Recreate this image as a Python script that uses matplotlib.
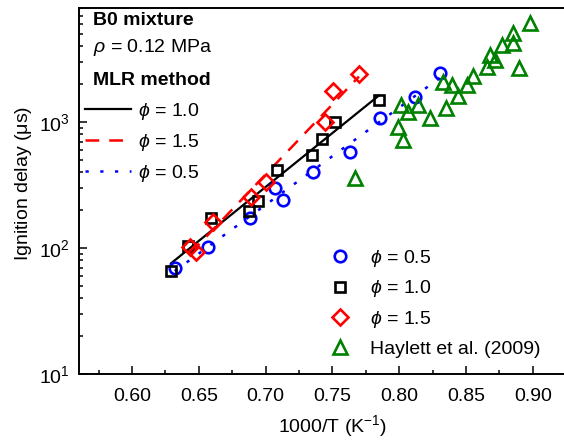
import numpy as np
import matplotlib
matplotlib.use('Agg')
import matplotlib.pyplot as plt
from matplotlib.ticker import LogLocator, LogFormatterMathtext, MultipleLocator

plt.rcParams['font.family'] = ['Liberation Sans', 'DejaVu Sans']
plt.rcParams['mathtext.fontset'] = 'custom'
plt.rcParams['mathtext.rm'] = 'Liberation Sans'
plt.rcParams['mathtext.it'] = 'Liberation Sans:italic'
plt.rcParams['mathtext.bf'] = 'Liberation Sans:bold'

# B0 mixture, p = 0.12 MPa: inverse temperature (1000/T) vs ignition delay (us)
x_phi05 = [0.632, 0.657, 0.688, 0.707, 0.713, 0.7355, 0.763, 0.7856, 0.812, 0.8305]
tau_phi05 = [69, 102, 173, 299, 240, 401, 578, 1076, 1578, 2448]

x_phi10 = [0.6292, 0.6419, 0.6591, 0.6876, 0.6943, 0.7085, 0.7347, 0.7422, 0.7519, 0.7849]
tau_phi10 = [66, 104, 173, 197, 236, 416, 547, 733, 1000, 1496]

x_phi15 = [0.6434, 0.6479, 0.6606, 0.6891, 0.7003, 0.7445, 0.7504, 0.7699]
tau_phi15 = [102, 93, 161, 254, 334, 1000, 1762, 2404]

# Haylett et al. (2009)
x_haylett = [0.8979, 0.8852, 0.8852, 0.8769, 0.8680, 0.8717, 0.8657, 0.8897, 0.8552,
             0.8507, 0.8328, 0.8395, 0.8440, 0.8350, 0.8231, 0.8013, 0.8141, 0.8066,
             0.7991, 0.8028, 0.7669]
tau_haylett = [6109, 5082, 4235, 4084, 3404, 3107, 2735, 2687, 2328,
               1967, 2074, 1967, 1608, 1291, 1076, 1365, 1365, 1199,
               912, 720, 359]

fs = 14

fig = plt.figure(figsize=(5.64, 4.43), dpi=100)
ax = fig.add_axes([0.1393, 0.1558, 0.900, 0.826])


def mlr_line(x, tau):
    # straight fit of log10(tau) against 1000/T
    x = np.asarray(x)
    k, b = np.polyfit(x, np.log10(tau), 1)
    xf = np.array([x.min(), x.max()])
    return xf, 10 ** (k * xf + b)


xf, yf = mlr_line(x_phi10, tau_phi10)
l10, = ax.plot(xf, yf, color='black', lw=1.6, label=r'$\phi$ = 1.0')
xf, yf = mlr_line(x_phi15, tau_phi15)
l15, = ax.plot(xf, yf, color='#ff0000', lw=1.8, linestyle=(0, (5.5, 4)), label=r'$\phi$ = 1.5')
xf, yf = mlr_line(x_phi05, tau_phi05)
l05, = ax.plot(xf, yf, color='#0000ff', lw=1.8, linestyle=(0, (1.3, 4.6)), label=r'$\phi$ = 0.5')

mk = dict(linestyle='none', markerfacecolor='none', markeredgewidth=1.9)
m05, = ax.plot(x_phi05, tau_phi05, marker='o', ms=8.3, markeredgecolor='#0000ff', label=r'$\phi$ = 0.5', **mk)
m10, = ax.plot(x_phi10, tau_phi10, marker='s', ms=7.6, markeredgecolor='black', label=r'$\phi$ = 1.0', **mk)
m15, = ax.plot(x_phi15, tau_phi15, marker='D', ms=7.8, markeredgecolor='#ff0000', label=r'$\phi$ = 1.5', **mk)
mh, = ax.plot(x_haylett, tau_haylett, marker='^', ms=10, markeredgecolor='#008000', label='Haylett et al. (2009)', **mk)

ax.set_yscale('log')
ax.set_xlim(0.56, 0.94)
ax.set_ylim(10, 8040)
ax.xaxis.set_major_locator(MultipleLocator(0.05))
ax.xaxis.set_minor_locator(MultipleLocator(0.025))
ax.xaxis.set_major_formatter(matplotlib.ticker.FormatStrFormatter('%.2f'))
ax.yaxis.set_major_locator(LogLocator(base=10))
ax.yaxis.set_minor_locator(LogLocator(base=10, subs=np.arange(2, 10)))
ax.yaxis.set_major_formatter(LogFormatterMathtext())
ax.yaxis.set_minor_formatter(matplotlib.ticker.NullFormatter())
ax.tick_params(which='both', direction='in', labelsize=fs, width=1.1, top=False, right=False)
ax.tick_params(axis='x', which='major', length=5.5, pad=10)
ax.tick_params(axis='y', which='major', length=5.5, pad=6)
ax.tick_params(which='minor', length=3)
for s in ax.spines.values():
    s.set_linewidth(1.4)

ax.set_xlabel('1000/T (K$^{-1}$)', fontsize=fs, labelpad=6)
ax.set_ylabel(r'Ignition delay ($\mathregular{\mu}$s)', fontsize=fs)
ax.yaxis.set_label_coords(-0.088, 0.522)

ax.text(0.028, 0.967, 'B0 mixture', transform=ax.transAxes, fontsize=fs, fontweight='bold', va='center')
ax.text(0.028, 0.893, r'$\rho$ = 0.12 MPa', transform=ax.transAxes, fontsize=fs, va='center')
ax.text(0.028, 0.803, 'MLR method', transform=ax.transAxes, fontsize=fs, fontweight='bold', va='center')

leg1 = ax.legend(handles=[l10, l15, l05], loc='upper left', bbox_to_anchor=(0.012, 0.747),
                 frameon=False, fontsize=fs, handlelength=2.4, handletextpad=0.35,
                 labelspacing=0.53, borderaxespad=0, borderpad=0)
ax.add_artist(leg1)
ax.legend(handles=[m05, m10, m15, mh], loc='upper left', bbox_to_anchor=(0.492, 0.345),
          frameon=False, fontsize=fs, handlelength=1.2, handletextpad=0.95,
          labelspacing=0.5, borderaxespad=0, borderpad=0)

fig.savefig('out.png', dpi=100)
